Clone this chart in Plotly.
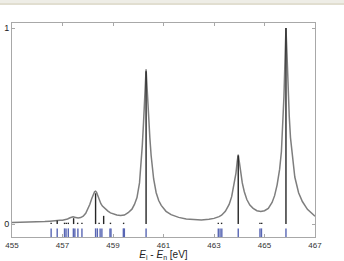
import plotly.graph_objects as go

# Broadened spectrum
curve_x = [455.0, 455.5, 456.0, 456.3, 456.5, 456.7, 456.8, 456.9, 457.0, 457.1, 457.2, 457.3,
           457.42, 457.52, 457.62, 457.72, 457.82, 457.92, 458.0, 458.08, 458.16, 458.22, 458.27,
           458.31, 458.35, 458.4, 458.46, 458.52, 458.58, 458.65, 458.72, 458.8, 458.9, 459.0,
           459.15, 459.3, 459.45, 459.6, 459.75, 459.85, 459.95, 460.05, 460.11, 460.16, 460.21,
           460.25, 460.28, 460.31, 460.34, 460.37, 460.41, 460.46, 460.51, 460.56, 460.61, 460.71,
           460.81, 460.91, 461.1, 461.3, 461.6, 461.9, 462.2, 462.5, 462.8, 463.0, 463.2, 463.3,
           463.45, 463.6, 463.7, 463.8, 463.87, 463.92, 463.96, 464.0, 464.05, 464.12, 464.2,
           464.3, 464.42, 464.55, 464.7, 464.85, 465.0, 465.15, 465.3, 465.4, 465.5, 465.6,
           465.67, 465.72, 465.77, 465.81, 465.85, 465.89, 465.93, 465.98, 466.03, 466.1, 466.2,
           466.35, 466.5, 466.7, 466.85, 467.0]
curve_y = [0.008, 0.009, 0.011, 0.013, 0.015, 0.019, 0.021, 0.020, 0.020, 0.022, 0.026, 0.032,
           0.037, 0.034, 0.031, 0.033, 0.040, 0.055, 0.075, 0.100, 0.130, 0.152, 0.165,
           0.168, 0.162, 0.145, 0.122, 0.104, 0.092, 0.083, 0.076, 0.066, 0.057, 0.051,
           0.046, 0.044, 0.046, 0.058, 0.076, 0.100, 0.135, 0.210, 0.300, 0.400, 0.520,
           0.620, 0.710, 0.790, 0.720, 0.640, 0.550, 0.440, 0.350, 0.280, 0.230, 0.160,
           0.120, 0.095, 0.065, 0.048, 0.034, 0.026, 0.022, 0.021, 0.024, 0.029, 0.038, 0.045,
           0.065, 0.100, 0.140, 0.200, 0.260, 0.320, 0.355, 0.320, 0.270, 0.210, 0.165,
           0.125, 0.097, 0.080, 0.068, 0.064, 0.068, 0.080, 0.110, 0.145, 0.200, 0.280,
           0.370, 0.490, 0.650, 0.830, 1.000, 0.870, 0.700, 0.550, 0.440, 0.340, 0.240,
           0.160, 0.115, 0.075, 0.055, 0.040]

# Transition sticks (black) : position and intensity
stick_x = [456.55, 456.79, 457.08, 457.15, 457.23, 457.44, 457.6, 457.77, 458.31, 458.45,
           458.63, 458.9, 459.42, 460.31, 463.17, 463.3, 463.96, 464.82, 464.89, 465.85]
stick_h = [0.007, 0.018, 0.007, 0.007, 0.007, 0.030, 0.007, 0.007, 0.157, 0.007,
           0.042, 0.007, 0.007, 0.780, 0.007, 0.007, 0.350, 0.007, 0.007, 1.000]

# State positions (blue markers below zero)
state_x = [456.55, 456.79, 457.08, 457.14, 457.23, 457.43, 457.49, 457.61, 457.77, 458.31,
           458.38, 458.49, 458.56, 458.88, 458.92, 459.41, 459.45, 460.31, 463.17, 463.24,
           463.31, 463.96, 464.82, 464.88, 465.85]
state_top = -0.022
state_bottom = -0.066

x_ticks = [455, 457, 459, 461, 463, 465, 467]
y_ticks = [0, 1]

fig = go.Figure()

fig.add_trace(go.Scatter(x=curve_x, y=curve_y, mode="lines",
                         line=dict(color="#7e7e7e", width=1.5), hoverinfo="skip"))

sx, sy = [], []
for p, h in zip(stick_x, stick_h):
    sx += [p, p, None]
    sy += [0, h, None]
fig.add_trace(go.Scatter(x=sx, y=sy, mode="lines",
                         line=dict(color="#262626", width=1.4), hoverinfo="skip"))

bx, by = [], []
for p in state_x:
    bx += [p, p, None]
    by += [state_bottom, state_top, None]
fig.add_trace(go.Scatter(x=bx, y=by, mode="lines",
                         line=dict(color="#5866b4", width=1.4), hoverinfo="skip"))

W, H = 344, 261
ml, mr, mt, mb = 12, 29, 23, 24
ph = H - mt - mb
pw = W - ml - mr

fig.update_layout(
    width=W, height=H,
    margin=dict(l=ml, r=mr, t=mt, b=mb, pad=0, autoexpand=False),
    paper_bgcolor="white", plot_bgcolor="white",
    showlegend=False,
    font=dict(family="Liberation Sans, Arial, sans-serif", size=8, color="#333333"),
    xaxis=dict(range=[455, 467], tickvals=x_ticks, ticktext=[str(v) for v in x_ticks],
               automargin=False,
               showgrid=False, zeroline=False, showline=True, linecolor="#a8a8a8",
               linewidth=1, mirror="ticks", ticks="inside", ticklen=3, tickcolor="#a8a8a8",
               tickfont=dict(size=8, color="#333333"),
               title=dict(text="<i>E</i><sub>i</sub> - <i>E</i><sub>n</sub> [eV]",
                          font=dict(size=10, color="#222222"))),
    yaxis=dict(range=[-0.066, 1.026], tickvals=y_ticks, ticktext=["0", "1"],
               automargin=False,
               showgrid=False, zeroline=False, showline=True, linecolor="#a8a8a8",
               linewidth=1, mirror="ticks", ticks="inside", ticklen=3, tickcolor="#a8a8a8",
               tickfont=dict(size=9, color="#222222")),
    shapes=[
        dict(type="rect", xref="paper", yref="paper", x0=-ml / pw, x1=1 + mr / pw,
             y0=1 + (mt - 5) / ph, y1=1 + mt / ph, fillcolor="#eeede6", line=dict(width=0),
             layer="below"),
        dict(type="line", xref="paper", yref="paper", x0=-ml / pw, x1=1 + mr / pw,
             y0=1 + (mt - 4) / ph, y1=1 + (mt - 4) / ph, line=dict(color="#dcd9c9", width=1.5)),
    ],
)

fig.write_html("out.html")
